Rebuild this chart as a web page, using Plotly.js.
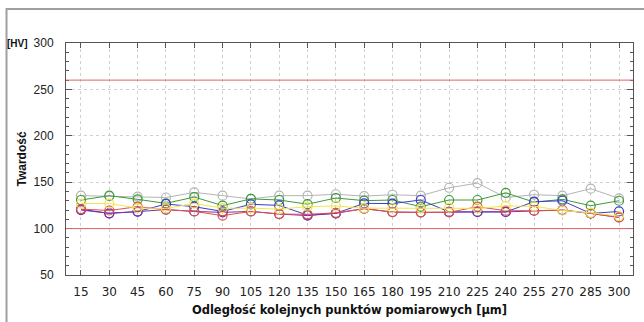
<!DOCTYPE html>
<html>
<head>
<meta charset="utf-8">
<script src="https://cdn.plot.ly/plotly-3.0.1.min.js"></script>
<style>
html,body{margin:0;padding:0;background:#fff;}
#chart{width:644px;height:322px;}
</style>
</head>
<body>
<div id="chart"></div>
<script>
// Distance between measurement points [µm]
const distances = [15,30,45,60,75,90,105,120,135,150,165,180,195,210,225,240,255,270,285,300];

// Hardness series [HV]
const seriesGrey   = [135.5,135,134.5,133.5,139,135.5,132,135.5,135.5,137,135,136.5,135.5,144,149,133.5,136.5,135.5,143,132.5];
const seriesGreen  = [130.8,135.5,131.5,127.2,134,124.8,132,130.8,126.3,133,130.1,130.8,123.6,130.8,130.8,138.5,128.5,131.5,124.7,130];
const seriesYellow = [127,127,122,121.8,127,122,122,121,123.6,124.4,122,122,121.8,122.5,121.8,124.4,124,119.5,117,113.5];
const seriesBlue   = [120.8,116.5,118.3,126.5,123.6,118.5,126.2,125,114.5,116.5,127.2,127,130.8,118,118,118,129,130,116.3,118.5];
const seriesPurple = [120,116.5,118.3,120.5,118.5,117.5,118.5,115.7,114,116.5,121.5,117.8,117.5,118,118,118,119.3,120,116.3,112];
const seriesRed    = [121,119.5,123.6,120.5,118.5,114,118.5,115.7,115.4,117,121.5,117.8,117.5,117.5,123.6,119.3,119.3,120,116.5,112];

// Limit lines [HV]
const limitUpper = 260;
const limitLower = 100;

const yTicks = [50,100,150,200,250,300];

function line(y, color) {
  return {
    x: distances, y: y, type: 'scatter', mode: 'lines+markers',
    line: {color: color, width: 1},
    marker: {symbol: 'circle-open', size: 9, color: color, line: {width: 1.2}},
    showlegend: false, hoverinfo: 'skip'
  };
}

const data = [
  line(seriesGrey, '#b4b4b4'),
  line(seriesGreen, '#3c9a3c'),
  line(seriesBlue, '#3b3bc8'),
  line(seriesPurple, '#7a2fa8'),
  line(seriesRed, '#e0504a'),
  line(seriesYellow, '#f2e54e')
];

const layout = {
  width: 644, height: 322,
  margin: {l: 66, r: 11, t: 43, b: 47},
  paper_bgcolor: '#fff', plot_bgcolor: '#fff',
  font: {family: 'Liberation Sans, Arial, sans-serif', size: 12, color: '#222'},
  xaxis: {
    type: 'linear', range: [7.06, 307.4],
    tickmode: 'array', tickvals: distances, ticktext: distances.map(String),
    showgrid: true, gridcolor: '#d0d0d0', griddash: 'dot', gridwidth: 1,
    zeroline: false,
    showline: true, linecolor: '#555', linewidth: 1, mirror: 'allticks',
    ticks: 'inside', ticklen: 5, tickcolor: '#555',
    tickfont: {family: 'DejaVu Sans, Verdana, sans-serif', size: 12, color: '#222'},
    ticklabelstandoff: 6,
    title: {text: 'Odległość kolejnych punktów pomiarowych [µm]',
            font: {family: 'DejaVu Sans, Verdana, sans-serif', size: 11.5, weight: 'bold', color: '#111'},
            standoff: 7}
  },
  yaxis: {
    range: [50, 300], tickmode: 'array', tickvals: yTicks,
    showgrid: true, gridcolor: '#d0d0d0', griddash: 'dot', gridwidth: 1,
    zeroline: false,
    showline: true, linecolor: '#555', linewidth: 1, mirror: 'allticks',
    ticks: 'inside', ticklen: 6, tickcolor: '#555',
    minor: {dtick: 10, ticks: 'inside', ticklen: 3, tickcolor: '#555', showgrid: false},
    tickfont: {family: 'Liberation Sans, Arial, sans-serif', size: 12, color: '#222'},
    ticklabelstandoff: 9,
    title: {text: 'Twardość',
            font: {family: 'Liberation Sans, Arial, sans-serif', size: 12, weight: 'bold', color: '#111'},
            standoff: 4}
  },
  shapes: [
    {type: 'line', xref: 'paper', yref: 'y', x0: 0, x1: 1, y0: limitUpper, y1: limitUpper,
     line: {color: '#dc6464', width: 1}},
    {type: 'line', xref: 'paper', yref: 'y', x0: 0, x1: 1, y0: limitLower, y1: limitLower,
     line: {color: '#dc6464', width: 1}},
    {type: 'rect', xref: 'paper', yref: 'paper', x0: -0.1049, x1: 1.2, y0: -0.3, y1: 1.1466,
     line: {color: '#a0a0a0', width: 2}, fillcolor: 'rgba(0,0,0,0)', layer: 'below'}
  ],
  annotations: [
    {text: '[HV]', xref: 'paper', yref: 'y', x: -0.0635, y: 300, xanchor: 'right', yanchor: 'middle',
     showarrow: false, font: {family: 'Liberation Sans, Arial, sans-serif', size: 10, weight: 'bold', color: '#111'}}
  ]
};

Plotly.newPlot('chart', data, layout, {displayModeBar: false, staticPlot: true});
</script>
</body>
</html>
